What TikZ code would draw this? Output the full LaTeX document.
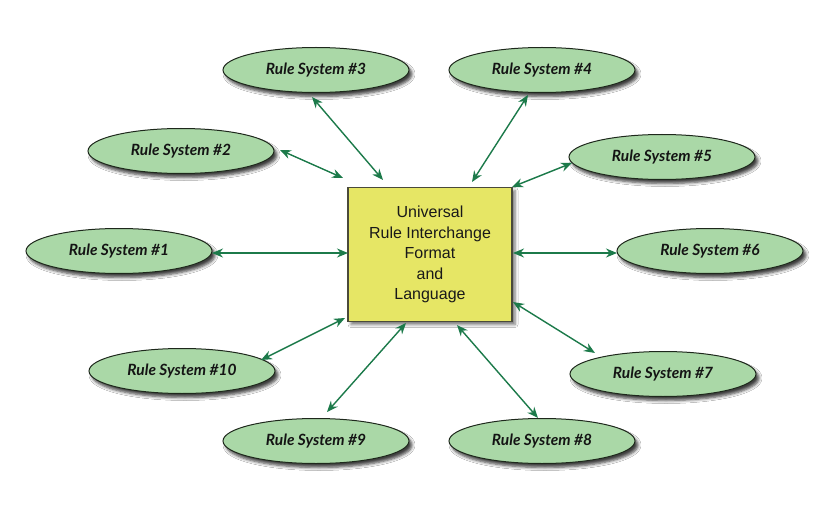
\documentclass[tikz,border=0pt]{standalone}
\usepackage{fontspec}
\setmainfont{Liberation Sans}
\newfontfamily\rsfont{Lato}
\usetikzlibrary{shapes.geometric,shadows.blur,arrows.meta}
\definecolor{rsfill}{HTML}{AAD8A7}
\definecolor{rsdraw}{HTML}{1E281C}
\definecolor{boxfill}{HTML}{E6E665}
\definecolor{boxdraw}{HTML}{4A4A3A}
\definecolor{arr}{HTML}{1C7A4A}
\begin{document}
\begin{tikzpicture}[x=1pt,y=-1pt,
  rs/.style={ellipse,draw=rsdraw,line width=1pt,fill=rsfill,minimum width=186pt,minimum height=45pt,inner sep=0pt,
    font=\rsfont\bfseries\itshape\fontsize{15.5}{18}\selectfont,text=black!92,
    blur shadow={shadow xshift=3pt,shadow yshift=-4pt,shadow blur steps=5,shadow blur radius=3pt,shadow opacity=75}},
  centerbox/.style={rectangle,draw=boxdraw,line width=1.3pt,fill=boxfill,minimum width=164pt,minimum height=134pt,
    align=center,font=\fontsize{16}{20.5}\selectfont,text=black!90,
    blur shadow={shadow xshift=3pt,shadow yshift=-3pt,shadow blur steps=5,shadow blur radius=3pt,shadow opacity=55}},
  link/.style={draw=arr,line width=1.4pt,{Stealth[length=11pt,width=9pt]}-{Stealth[length=11pt,width=9pt]}}]
\path[use as bounding box,fill=white] (0,0) rectangle (840,505);
\node[centerbox] (box) at (430,254.5) {Universal\\Rule Interchange\\Format\\and\\Language};
\node[rs] (r1) at (119,251) {Rule System \#1};
\node[rs] (r2) at (181,151) {Rule System \#2};
\node[rs] (r3) at (316,70) {Rule System \#3};
\node[rs] (r4) at (542,70) {Rule System \#4};
\node[rs] (r5) at (662,157) {Rule System \#5};
\node[rs] (r6) at (710,251) {Rule System \#6};
\node[rs] (r7) at (663,374) {Rule System \#7};
\node[rs] (r8) at (542,441) {Rule System \#8};
\node[rs] (r9) at (316,441) {Rule System \#9};
\node[rs] (r10) at (182,371) {Rule System \#10};
\coordinate (a1) at (212,253); \coordinate (b1) at (348,253);
\coordinate (a2) at (280,150); \coordinate (b2) at (343,178);
\coordinate (a3) at (312,97);  \coordinate (b3) at (383,180);
\coordinate (a4) at (528,95);  \coordinate (b4) at (472,182);
\coordinate (a5) at (572,163); \coordinate (b5) at (512,187);
\coordinate (a6) at (617,253); \coordinate (b6) at (513,253);
\coordinate (a7) at (595,353); \coordinate (b7) at (513,302);
\coordinate (a8) at (538,418); \coordinate (b8) at (457,325);
\coordinate (a9) at (327,412); \coordinate (b9) at (406,323);
\coordinate (a10) at (261,360); \coordinate (b10) at (345,318);
\foreach \i in {1,...,10} {\draw[link] (a\i) -- (b\i);}
\end{tikzpicture}
\end{document}
